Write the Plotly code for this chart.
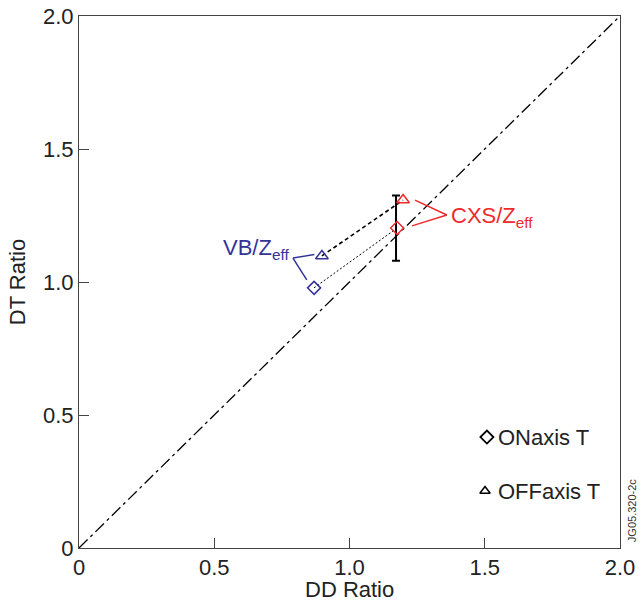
import plotly.graph_objects as go

# data
vb_on = (0.869, 0.978)
vb_off = (0.898, 1.098)
cxs_on = (1.176, 1.203)
cxs_off = (1.198, 1.308)
err_x = 1.172
err_y = 1.20
err_plus = 0.125
err_minus = 0.12
diag_x = [0, 2]
diag_y = [0, 2]
legend_on = (1.508, 0.417)
legend_off = (1.501, 0.214)
tick_vals = [0, 0.5, 1.0, 1.5, 2.0]
tick_text = ["0", "0.5", "1.0", "1.5", "2.0"]

BLUE = "#33339a"
RED = "#ee2a2a"
TXT = "#222222"
FONT = "Liberation Sans, Arial, sans-serif"
FS = 22

fig = go.Figure()
fig.add_trace(go.Scatter(x=diag_x, y=diag_y, mode="lines",
                         line=dict(color="black", width=1.3, dash="12px,4px,3px,4px"),
                         hoverinfo="skip"))
fig.add_trace(go.Scatter(x=[vb_off[0], cxs_off[0]], y=[vb_off[1], cxs_off[1]], mode="lines",
                         line=dict(color="black", width=1.6, dash="4px,3px")))
fig.add_trace(go.Scatter(x=[vb_on[0], cxs_on[0]], y=[vb_on[1], cxs_on[1]], mode="lines",
                         line=dict(color="black", width=1, dash="2px,2px")))
fig.add_trace(go.Scatter(x=[err_x], y=[err_y], mode="markers",
                         marker=dict(size=1, color="rgba(0,0,0,0)"),
                         error_y=dict(type="data", symmetric=False, array=[err_plus],
                                      arrayminus=[err_minus], color="black", thickness=2, width=4)))
fig.add_trace(go.Scatter(x=[vb_on[0]], y=[vb_on[1]], mode="markers",
                         marker=dict(symbol="diamond-open", size=10, color=BLUE, line=dict(width=1.5))))
fig.add_trace(go.Scatter(x=[vb_off[0]], y=[vb_off[1]], mode="markers",
                         marker=dict(symbol="triangle-up-open", size=11, color=BLUE, line=dict(width=1.5))))
fig.add_trace(go.Scatter(x=[cxs_on[0]], y=[cxs_on[1]], mode="markers",
                         marker=dict(symbol="diamond-open", size=10, color=RED, line=dict(width=1.5))))
fig.add_trace(go.Scatter(x=[cxs_off[0]], y=[cxs_off[1]], mode="markers",
                         marker=dict(symbol="triangle-up-open", size=11, color=RED, line=dict(width=1.5))))
# legend symbols
fig.add_trace(go.Scatter(x=[legend_on[0]], y=[legend_on[1]], mode="markers",
                         marker=dict(symbol="diamond-open", size=10, color="black", line=dict(width=1.8))))
fig.add_trace(go.Scatter(x=[legend_off[0]], y=[legend_off[1]], mode="markers",
                         marker=dict(symbol="triangle-up-open", size=9, color="black", line=dict(width=1.5))))

shapes = []
for (x0, y0, x1, y1, c) in [
    (0.791, 1.090, 0.870, 1.103, BLUE),
    (0.791, 1.090, 0.842, 1.008, BLUE),
    (1.360, 1.252, 1.242, 1.308, RED),
    (1.360, 1.252, 1.231, 1.211, RED),
]:
    shapes.append(dict(type="line", xref="x", yref="y", x0=x0, y0=y0, x1=x1, y1=y1,
                       line=dict(color=c, width=1.5)))

annotations = [
    dict(x=0.785, y=1.125, xref="x", yref="y", text="VB/Z<sub>eff</sub>", showarrow=False,
         xanchor="right", yanchor="middle", font=dict(color=BLUE, size=FS, family=FONT)),
    dict(x=1.368, y=1.245, xref="x", yref="y", text="CXS/Z<sub>eff</sub>", showarrow=False,
         xanchor="left", yanchor="middle", font=dict(color=RED, size=FS, family=FONT)),
    dict(x=1.543, y=legend_on[1], xref="x", yref="y", text="ONaxis T", showarrow=False,
         xanchor="left", yanchor="middle", font=dict(color=TXT, size=FS, family=FONT)),
    dict(x=1.543, y=legend_off[1], xref="x", yref="y", text="OFFaxis T", showarrow=False,
         xanchor="left", yanchor="middle", font=dict(color=TXT, size=FS, family=FONT)),
    dict(x=1.022, y=0.071, xref="paper", yref="paper", text="JG05.320-2c", showarrow=False,
         textangle=-90, xanchor="center", yanchor="middle", font=dict(color="#333", size=11, family=FONT)),
    dict(x=0.5, y=0, xref="paper", yref="paper", text="DD Ratio", showarrow=False,
         xanchor="center", yanchor="top", yshift=-27, font=dict(color=TXT, size=FS, family=FONT)),
]

axis_common = dict(range=[0, 2], tickvals=tick_vals, ticktext=tick_text, ticks="inside",
                   ticklen=10, tickcolor="#444", showline=True, linecolor="#444", linewidth=1,
                   mirror=True, showgrid=False, zeroline=False, automargin=False,
                   ticklabeloverflow="allow",
                   tickfont=dict(size=FS, color=TXT, family=FONT))

fig.update_layout(
    width=641, height=601,
    margin=dict(l=79, r=21, t=16, b=53, autoexpand=False),
    paper_bgcolor="white", plot_bgcolor="white",
    showlegend=False,
    shapes=shapes, annotations=annotations,
    font=dict(family=FONT),
    xaxis=dict(**axis_common),
    yaxis=dict(**axis_common, title=dict(text="DT Ratio", font=dict(size=FS, color=TXT), standoff=11)),
)
fig.write_html("out.html", config={"displayModeBar": False},
               post_script="document.body.style.margin='0';")
